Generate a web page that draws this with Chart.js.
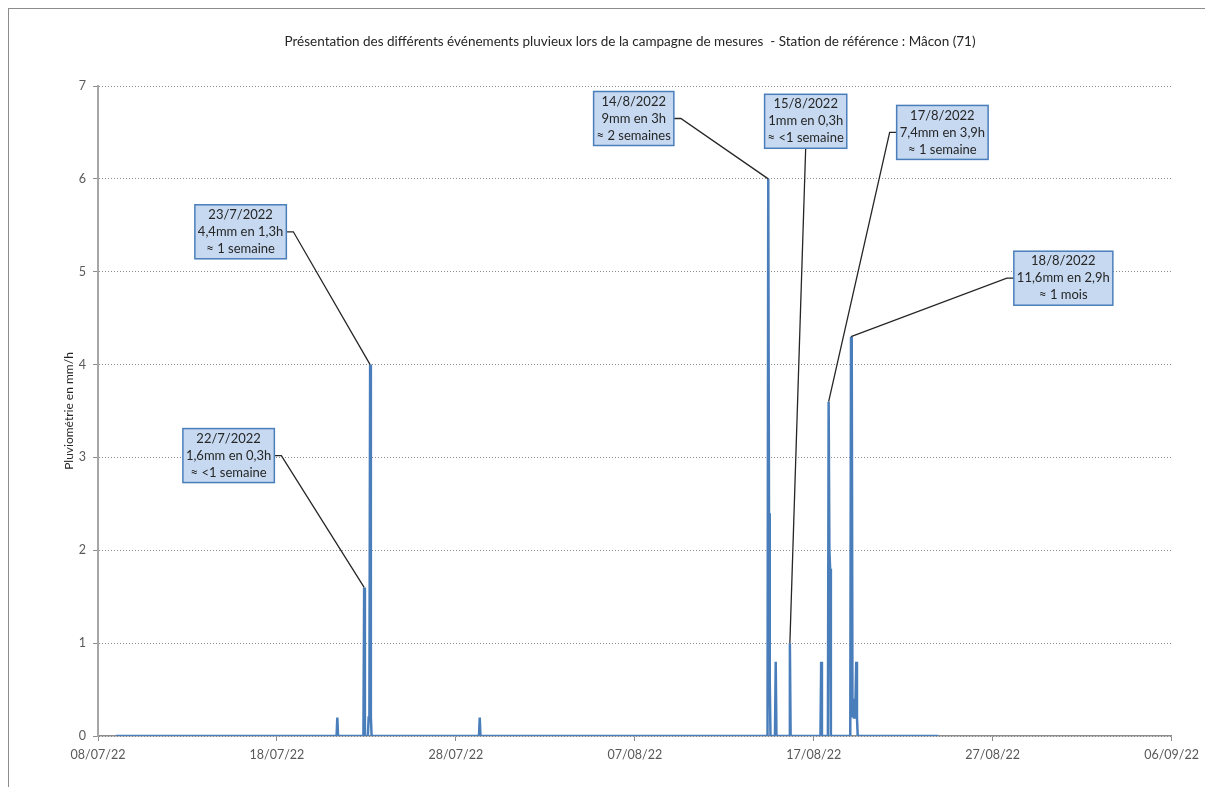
<!DOCTYPE html>
<html>
<head>
<meta charset="utf-8">
<script src="https://cdn.jsdelivr.net/npm/chart.js@4/dist/chart.umd.min.js"></script>
<style>
  body { margin: 0; background: #fff; }
  #cadre { width: 1205px; height: 787px; position: relative; }
</style>
</head>
<body>
<div id="cadre"><canvas id="monGraphique"></canvas></div>
<script>
// Pluviométrie horaire (mm/h) - station Mâcon
const heures = [
  "2022-07-09 00:00",
  "2022-07-21 08:00", "2022-07-21 09:00", "2022-07-21 10:00",
  "2022-07-22 20:00", "2022-07-22 21:00", "2022-07-22 22:00",
  "2022-07-23 02:00", "2022-07-23 03:00", "2022-07-23 04:00", "2022-07-23 05:00", "2022-07-23 06:00", "2022-07-23 07:00",
  "2022-07-29 07:00", "2022-07-29 08:00", "2022-07-29 09:00",
  "2022-08-14 10:00", "2022-08-14 11:00", "2022-08-14 12:00", "2022-08-14 13:00", "2022-08-14 14:00",
  "2022-08-14 20:00", "2022-08-14 21:00", "2022-08-14 22:00",
  "2022-08-15 15:00", "2022-08-15 16:00", "2022-08-15 17:00",
  "2022-08-17 09:00", "2022-08-17 10:00", "2022-08-17 11:00",
  "2022-08-17 19:00", "2022-08-17 20:00", "2022-08-17 21:00", "2022-08-17 22:00", "2022-08-17 23:00",
  "2022-08-19 01:00", "2022-08-19 02:00", "2022-08-19 03:00", "2022-08-19 04:00", "2022-08-19 05:00",
  "2022-08-19 06:00", "2022-08-19 07:00", "2022-08-19 08:00", "2022-08-19 09:00", "2022-08-19 10:00",
  "2022-08-19 11:00",
  "2022-08-23 23:00"
];
const pluie = [
  0,
  0, 0.2, 0,
  0, 1.6, 0,
  0, 0.2, 0.2, 4.0, 0.2, 0,
  0, 0.2, 0,
  0, 6.0, 2.4, 0.6, 0,
  0, 0.8, 0,
  0, 1.0, 0,
  0, 0.8, 0,
  0, 3.6, 2.0, 1.8, 0,
  0, 4.3, 4.1, 0.2, 0.4,
  0.2, 0.2, 0.4, 0.8, 0.2,
  0,
  0
];

// graduations de l'axe des dates (jours depuis le 08/07/22)
const joursTicks = [0, 10, 20, 30, 40, 50, 60];

// Étiquettes des événements
const annotTextes = [
  ["22/7/2022", "1,6mm en 0,3h", "≈ <1 semaine"],
  ["23/7/2022", "4,4mm en 1,3h", "≈ 1 semaine"],
  ["14/8/2022", "9mm en 3h", "≈ 2 semaines"],
  ["15/8/2022", "1mm en 0,3h", "≈ <1 semaine"],
  ["17/8/2022", "7,4mm en 3,9h", "≈ 1 semaine"],
  ["18/8/2022", "11,6mm en 2,9h", "≈ 1 mois"]
];
const annotAncre = ["2022-07-22 21:00", "2022-07-23 05:00", "2022-08-14 11:00", "2022-08-15 16:00", "2022-08-17 20:00", "2022-08-19 02:00"];
// position du centre de chaque étiquette (jour, mm/h)
const annotJour = [7.30, 7.97, 29.94, 39.55, 47.19, 53.95];
const annotValeur = [3.02, 5.43, 6.65, 6.62, 6.50, 4.93];
const annotCote = ["droite", "droite", "droite", "bas", "gauche", "gauche"];

const debut = Date.UTC(2022, 6, 8);

// transforme "AAAA-MM-JJ hh:mm" en jours depuis le 08/07/22
function jour(s) {
    let [d, h] = s.split(" ");
    let [a, m, j] = d.split("-").map(Number);
    let hh = Number(h.split(":")[0]);
    return (Date.UTC(a, m - 1, j, hh) - debut) / 86400000;
}

function dateCourte(v) {
    let d = new Date(debut + v * 86400000);
    let jj = String(d.getUTCDate()).padStart(2, "0");
    let mm = String(d.getUTCMonth() + 1).padStart(2, "0");
    let aa = String(d.getUTCFullYear()).slice(2);
    return jj + "/" + mm + "/" + aa;
}

const points = heures.map((h, i) => ({ x: jour(h), y: pluie[i] }));

const police = "Lato, 'Open Sans', sans-serif";

const decor = {
    id: "decor",
    beforeDraw(chart) {
        const ctx = chart.ctx;
        ctx.save();
        ctx.fillStyle = "#fff";
        ctx.fillRect(0, 0, chart.width, chart.height);
        ctx.strokeStyle = "#8c8c8c";
        ctx.lineWidth = 1;
        ctx.strokeRect(8.5, 8.5, 1210, 800);
        ctx.fillStyle = "#262626";
        ctx.font = "13.5px " + police;
        ctx.textAlign = "center";
        ctx.textBaseline = "middle";
        ctx.fillText("Présentation des différents événements pluvieux lors de la campagne de mesures  - Station de référence : Mâcon (71)", 630, 42);
        ctx.restore();
    },
    afterDatasetsDraw(chart) {
        const ctx = chart.ctx;
        const x = chart.scales.x, y = chart.scales.y;
        ctx.save();
        ctx.font = "13px " + police;
        annotTextes.forEach((lignes, i) => {
            let k = heures.indexOf(annotAncre[i]);
            let ax = x.getPixelForValue(jour(heures[k]));
            let ay = y.getPixelForValue(pluie[k]);
            let cx = x.getPixelForValue(annotJour[i]);
            let cy = y.getPixelForValue(annotValeur[i]);
            let w = Math.max(...lignes.map(l => ctx.measureText(l).width)) + 6;
            let h = 54;
            let g = cx - w / 2, t = cy - h / 2;

            ctx.beginPath();
            ctx.strokeStyle = "#262626";
            ctx.lineWidth = 1.3;
            if (annotCote[i] == "droite") {
                ctx.moveTo(g + w, cy); ctx.lineTo(g + w + 7, cy);
            } else if (annotCote[i] == "gauche") {
                ctx.moveTo(g, cy); ctx.lineTo(g - 7, cy);
            } else {
                ctx.moveTo(cx, t + h);
            }
            ctx.lineTo(ax, ay);
            ctx.stroke();

            ctx.fillStyle = "#c6d9f1";
            ctx.fillRect(g, t, w, h);
            ctx.strokeStyle = "#4a7ebb";
            ctx.lineWidth = 1.5;
            ctx.strokeRect(g, t, w, h);

            ctx.fillStyle = "#262626";
            ctx.textAlign = "center";
            ctx.textBaseline = "middle";
            lignes.forEach((l, n) => ctx.fillText(l, cx, cy + (n - 1) * 17));
        });
        ctx.restore();
    }
};

const ctx = document.getElementById("monGraphique");

const config = {
    type: "line",
    data: {
        datasets: [{
            label: "Pluviométrie",
            data: points,
            borderColor: "#4a7ebb",
            backgroundColor: "#4a7ebb",
            borderWidth: 2.5,
            pointRadius: 0,
            tension: 0
        }]
    },
    options: {
        responsive: true,
        maintainAspectRatio: false,
        animation: false,
        layout: { padding: { top: 86, right: 30, left: 0, bottom: 0 } },
        plugins: {
            legend: { display: false },
            tooltip: { enabled: false }
        },
        scales: {
            x: {
                type: "linear",
                min: 0,
                max: 60,
                afterBuildTicks: (axe) => { axe.ticks = joursTicks.map(v => ({ value: v })); },
                afterFit: (axe) => { axe.height = 51; },
                ticks: {
                    callback: (v) => dateCourte(v),
                    color: "#595959",
                    font: { family: police, size: 12.5 },
                    padding: 6,
                    maxRotation: 0
                },
                grid: { drawOnChartArea: false, drawTicks: true, tickLength: 5, tickColor: "#8c8c8c", tickWidth: 1 },
                border: { display: true, color: "#8c8c8c", width: 1.5 }
            },
            y: {
                min: 0,
                max: 7,
                afterFit: (axe) => { axe.width = 98; },
                ticks: {
                    stepSize: 1,
                    color: "#595959",
                    font: { family: police, size: 12.5 },
                    padding: 7
                },
                grid: { color: "#8c8c8c", lineWidth: 1, drawTicks: true, tickLength: 5, tickColor: "#8c8c8c", tickBorderDash: [] },
                border: { display: true, color: "#a6a6a6", width: 2, dash: [1, 2] },
                title: {
                    display: true,
                    text: "Pluviométrie en mm/h",
                    color: "#262626",
                    font: { family: police, size: 12 },
                    padding: { top: 62, bottom: 0 }
                }
            }
        }
    },
    plugins: [decor]
};

const monGraphique = new Chart(ctx, config);
</script>
</body>
</html>
